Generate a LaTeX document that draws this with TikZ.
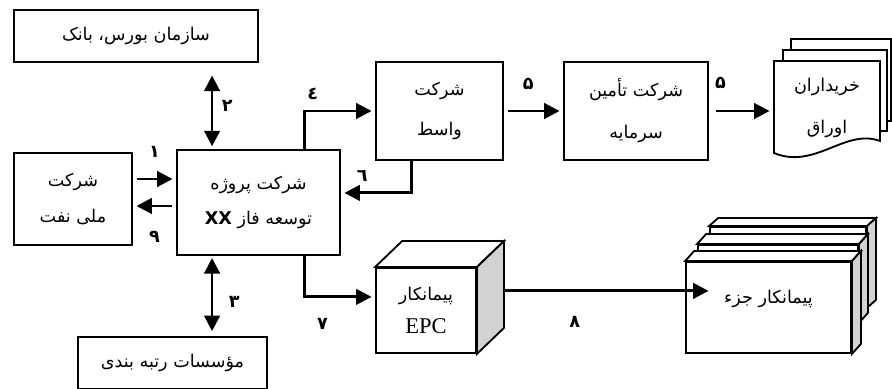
\documentclass[tikz,border=0pt]{standalone}
\usepackage{fontspec}
\usetikzlibrary{arrows.meta}
\newfontfamily\fa[Script=Arabic]{DejaVu Sans}
\newfontfamily\epcfont{Liberation Serif}
\TeXXeTstate=1

\tikzset{
  box/.style={draw, line width=1.3pt, fill=white, align=center, inner sep=0pt,
    font=\fa\fontsize{12.5}{15}\selectfont},
  face/.style={draw, line width=1.3pt, fill=white},
  flow/.style={line width=2pt, shorten >=2.5pt, -{Triangle[length=11pt,width=11pt]}},
  dflow/.style={line width=2pt, {Triangle[length=11pt,width=11pt]}-{Triangle[length=11pt,width=11pt]}},
  num/.style={inner sep=1pt, font=\fa\bfseries\fontsize{12.5}{14}\selectfont}
}

% top and right faces of a box node
\newcommand\boxfaces[3]{%
  \draw[face] (#1.north west) -- ++(#2,-#3) -- ([shift={(#2,-#3)}]#1.north east) -- (#1.north east) -- cycle;
  \draw[face, fill=gray!35] (#1.north east) -- ++(#2,-#3) -- ([shift={(#2,-#3)}]#1.south east) -- (#1.south east) -- cycle;}

\begin{document}
\begin{tikzpicture}[x=0.025cm, y=-0.025cm]
\useasboundingbox (0,0) rectangle (892,388);

\node[box, minimum width=6.1cm, minimum height=1.3cm] (bourse) at (136,36) {\beginR سازمان بورس، بانک\endR};
\node[box, minimum width=2.95cm, minimum height=2.3cm] (nioc) at (73,199) {\beginR شرکت\endR\\[11pt]\beginR ملی نفت\endR};
\node[box, minimum width=4.075cm, minimum height=2.625cm] (main) at (258.5,202.5) {\beginR شرکت پروژه\endR\\[10pt]\beginR توسعه فاز \textbf{XX}\endR};
\node[box, minimum width=4.725cm, minimum height=1.3cm] (rating) at (172.5,363) {\beginR مؤسسات رتبه بندی\endR};
\node[box, minimum width=3.175cm, minimum height=2.45cm] (wasit) at (439.5,111) {\beginR شرکت\endR\\[13pt]\beginR واسط\endR};
\node[box, minimum width=3.6cm, minimum height=2.45cm] (tamin) at (636,111) {\beginR شرکت تأمین\endR\\[15pt]\beginR سرمایه\endR};

% document stack
\draw[face] (791,39) rectangle (891,121);
\draw[face] (783,50) rectangle (887,131);
\draw[face] (774,61) -- (880,61) -- (880,141) .. controls (845,128) and (815,170) .. (774,153) -- cycle;
\node[box, draw=none, fill=none, minimum width=2.65cm] (buyers) at (827,108) {\beginR خریداران\endR\\[15pt]\beginR اوراق\endR};

% EPC contractor
\node[box, minimum width=2.5cm, minimum height=2.125cm] (epc) at (426,310.5) {\beginR پیمانکار\endR\\[8pt]{\epcfont\fontsize{16}{18}\selectfont EPC}};
\boxfaces{epc}{27}{26}

% sub contractors
\node[box, minimum width=3.9cm, minimum height=2cm] (sub3) at (788,267) {};
\boxfaces{sub3}{9}{8}
\node[box, minimum width=4cm, minimum height=1.925cm] (sub2) at (778,283.5) {};
\boxfaces{sub2}{9}{10}
\node[box, minimum width=4.125cm, minimum height=2.275cm] (sub1) at (768.5,307.5) {\beginR پیمانکار جزء\endR\\\mbox{}};
\boxfaces{sub1}{9}{10}

% connectors
\draw[flow, shorten <=3pt] ([yshift=0.5cm]nioc.east) -- node[num, above=13pt] {۱} ([yshift=0.5cm]nioc.east -| main.west);
\draw[flow, shorten <=3pt] ([yshift=-0.175cm]nioc.east -| main.west) -- node[num, below=16pt] {۹} ([yshift=-0.175cm]nioc.east);
\draw[dflow, shorten <=2pt, shorten >=9pt] ([xshift=-1.16cm]main.north) -- node[num, right=5pt] {۲} ([xshift=-1.16cm]main.north |- bourse.south);
\draw[dflow, shorten <=1.5pt, shorten >=3.5pt] ([xshift=-1.16cm]main.south) -- node[num, pos=0.58, right=10pt] {۳} ([xshift=-1.16cm]main.south |- rating.north);
\draw[flow] ([xshift=1.14cm]main.north) |- node[num, pos=0.56, above=6pt] {٤} (wasit.west);
\draw[flow] ([xshift=-0.69cm]wasit.south) |- node[num, pos=0.85, above=6pt] {٦} ([yshift=0.24cm]main.east);
\draw[flow, shorten <=3pt] (wasit.east) -- node[num, pos=0.41, above=13pt] {۵} (tamin.east -| tamin.west);
\draw[flow, shorten <=5pt] (tamin.east) -- node[num, pos=0.18, above=14pt] {۵} (tamin.east -| buyers.west);
\draw[flow] ([xshift=1.14cm]main.south) |- node[num, pos=0.63, below=13pt] {۷} ([yshift=0.34cm]epc.west);
\draw[flow] ([xshift=0.675cm,yshift=0.49cm]epc.east) -- node[num, pos=0.34, below=16pt] {۸} ([xshift=0.675cm,yshift=0.49cm]epc.east -| sub1.west);
\end{tikzpicture}
\end{document}
